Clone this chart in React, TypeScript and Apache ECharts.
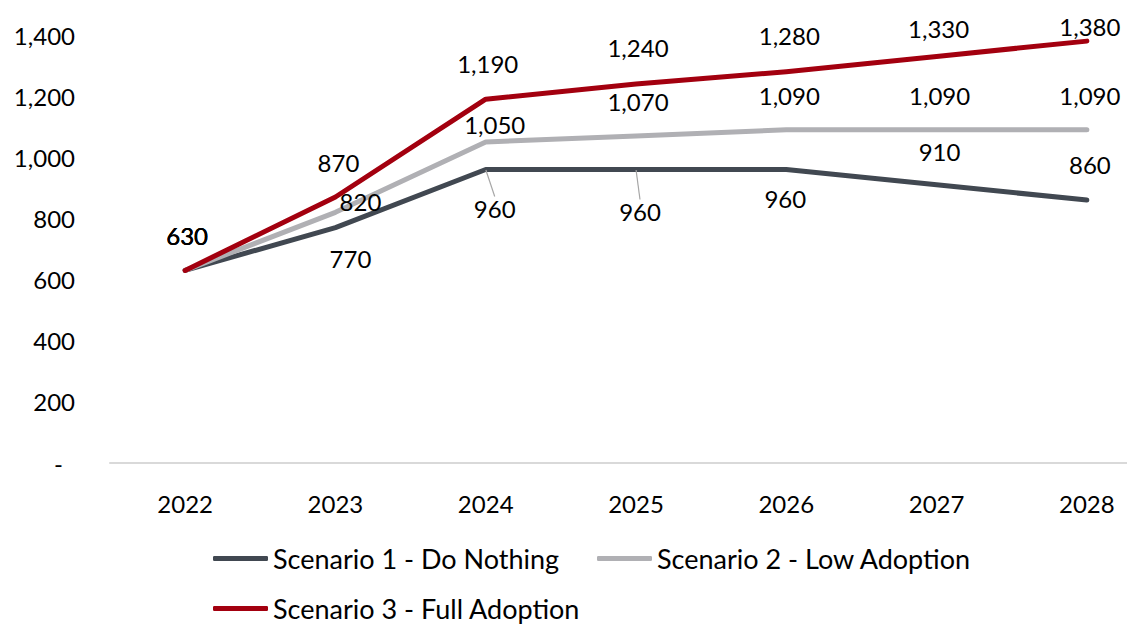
import React, { useEffect, useRef } from "react";
import * as echarts from "echarts";

const years = ["2022", "2023", "2024", "2025", "2026", "2027", "2028"];
const scenario1 = [630, 770, 960, 960, 960, 910, 860];
const scenario2 = [630, 820, 1050, 1070, 1090, 1090, 1090];
const scenario3 = [630, 870, 1190, 1240, 1280, 1330, 1380];
const seriesNames = [
  "Scenario 1 - Do Nothing",
  "Scenario 2 - Low Adoption",
  "Scenario 3 - Full Adoption",
];
const yMin = 0;
const yMax = 1400;
const yStep = 200;

// label placement (styling, not data)
const offsets1: number[][] = [[2, -35], [15, 31], [9, 39], [4, 42], [-1, 29], [3, -33], [3, -36]];
const offsets2: number[][] = [[2, -35], [25, -11], [9, -18], [2, -34], [3, -34], [3, -34], [3, -34]];
const offsets3: number[][] = [[2, -35], [3, -35], [2, -36], [2, -36], [3, -36], [2, -28], [3, -15]];
// short leader lines (dx, dy from the point) for some Scenario 1 labels
const leaders1: (number[] | null)[] = [null, null, [7, 15], [2, 17], null, null, null];

const colors = ["#414851", "#b0b0b4", "#a3000f"];
const FONT = 'Lato, "Noto Sans", sans-serif';

function fmt(v: number) {
  return v.toLocaleString("en-US");
}

function buildData(vals: number[], offs: number[][], useOffset: boolean, leaders?: (number[] | null)[]) {
  return vals.map((v, i) => ({
    value: v,
    label: useOffset ? { offset: offs[i] } : {},
    labelLine: leaders && leaders[i]
      ? { show: true, lineStyle: { color: "#a6a6a6", width: 1.2 } }
      : { show: false },
  }));
}

export default function App() {
  const ref = useRef<HTMLDivElement>(null);
  useEffect(() => {
    if (!ref.current) return;
    const chart = echarts.init(ref.current, undefined, { renderer: "svg" });
    const vals = [scenario1, scenario2, scenario3];
    const offs = [offsets1, offsets2, offsets3];
    const legendPos = [
      { left: 213, top: 545 },
      { left: 597, top: 545 },
      { left: 213, top: 595 },
    ];
    chart.setOption({
      animation: false,
      backgroundColor: "#ffffff",
      grid: { left: 110, width: 1052, top: 35, height: 428, outerBoundsMode: "none", containLabel: false },
      legend: seriesNames.map((n, i) => ({
        data: [n],
        left: legendPos[i].left,
        top: legendPos[i].top,
        padding: 0,
        icon: "roundRect",
        itemWidth: 55,
        itemHeight: 5,
        selectedMode: false,
        textStyle: { fontFamily: FONT, fontSize: 27, color: "#000" },
      })),
      xAxis: {
        type: "category",
        data: years,
        boundaryGap: true,
        axisLine: { show: true, lineStyle: { color: "#d9d9d9", width: 2 } },
        axisTick: { show: false },
        axisLabel: { margin: 28, fontFamily: FONT, fontSize: 24, color: "#000" },
        splitLine: { show: false },
      },
      yAxis: {
        type: "value",
        min: yMin,
        max: yMax,
        interval: yStep,
        axisLine: { show: false },
        axisTick: { show: false },
        splitLine: { show: false },
        axisLabel: {
          margin: 35,
          fontFamily: FONT,
          fontSize: 24,
          color: "#000",
          formatter: (v: number) => (v === 0 ? "{d|-}" : fmt(v)),
          rich: { d: { padding: [0, 12, 0, 0], fontFamily: FONT, fontSize: 24, color: "#000" } },
        },
      },
      series: seriesNames.map((n, i) => ({
        name: n,
        type: "line",
        data: buildData(vals[i], offs[i], i !== 0, i === 0 ? leaders1 : undefined),
        symbol: "circle",
        symbolSize: 1,
        showSymbol: true,
        itemStyle: { color: colors[i] },
        lineStyle: { color: colors[i], width: 5, cap: "round", join: "round" },
        label: {
          show: true,
          position: "inside",
          fontFamily: FONT,
          fontSize: 24,
          color: "#000",
          formatter: (p: any) => fmt(p.value),
        },
        labelLayout:
          i === 0
            ? (p: any) => {
                const o = offsets1[p.dataIndex];
                const l = leaders1[p.dataIndex];
                const res: any = { dx: o[0], dy: o[1] };
                if (l) {
                  const cx = p.rect.x + p.rect.width / 2;
                  const cy = p.rect.y + p.rect.height / 2;
                  res.labelLinePoints = [
                    [cx, cy],
                    [cx + l[0] / 2, cy + l[1] / 2],
                    [cx + l[0], cy + l[1]],
                  ];
                }
                return res;
              }
            : undefined,
        emphasis: { disabled: true },
        z: 2 + i,
      })),
    });
    return () => chart.dispose();
  }, []);
  return (
    <div
      ref={ref}
      style={{ position: "fixed", left: 0, top: 0, width: 1127, height: 626 }}
    />
  );
}
